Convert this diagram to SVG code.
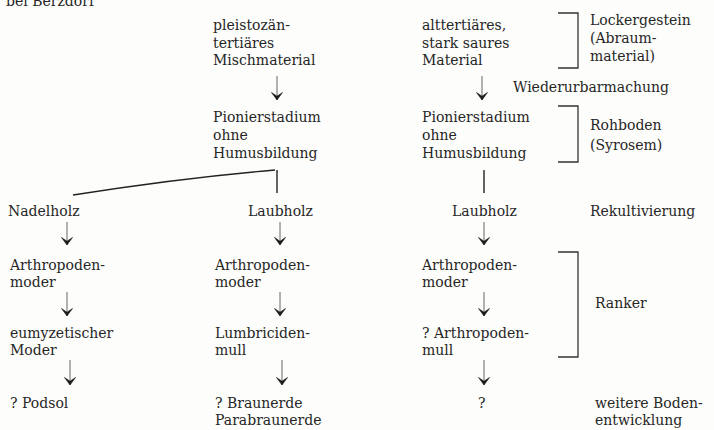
<svg xmlns="http://www.w3.org/2000/svg" width="714" height="430" viewBox="0 0 714 430">
<defs>
<marker id="head" markerWidth="12" markerHeight="14" viewBox="-9 -7 10 14" refX="0" refY="0" orient="auto" markerUnits="userSpaceOnUse">
<path d="M0,0 L-7.5,-5.5 L-3.8,0 L-7.5,5.5 Z" fill="#1a1a1a" stroke="#1a1a1a" stroke-width="0.6" stroke-linejoin="round"/>
</marker>
<style>
text{font-family:"DejaVu Serif","Liberation Serif",serif;font-size:14px;fill:#262626}
.ln{stroke:#666;stroke-width:1;fill:none}
.br{stroke:#333;stroke-width:1.3;fill:none}
.tr{stroke:#222;stroke-width:1.4;fill:none}
</style>
</defs>
<rect width="714" height="430" fill="#fdfdfb"/>
<text x="6" y="6">bei Berzdorf</text>

<g id="n-pleisto"><text x="213" y="30">pleistozän-</text><text x="213" y="48">tertiäres</text><text x="213" y="65">Mischmaterial</text></g>
<g id="n-pionier-l"><text x="213" y="122">Pionierstadium</text><text x="213" y="140">ohne</text><text x="213" y="158">Humusbildung</text></g>
<g id="n-nadel"><text x="8" y="216">Nadelholz</text></g>
<g id="n-laub-l"><text x="248" y="216">Laubholz</text></g>
<g id="n-arth-1"><text x="10" y="270">Arthropoden-</text><text x="10" y="287">moder</text></g>
<g id="n-arth-2"><text x="215" y="270">Arthropoden-</text><text x="215" y="287">moder</text></g>
<g id="n-eumyz"><text x="10" y="338">eumyzetischer</text><text x="10" y="355">Moder</text></g>
<g id="n-lumbr"><text x="215" y="338">Lumbriciden-</text><text x="215" y="355">mull</text></g>
<g id="n-podsol"><text x="10" y="408">? Podsol</text></g>
<g id="n-braun"><text x="215" y="408">? Braunerde</text><text x="215" y="425">Parabraunerde</text></g>

<g id="n-altt"><text x="422" y="30">alttertiäres,</text><text x="422" y="48">stark saures</text><text x="422" y="65">Material</text></g>
<g id="n-pionier-r"><text x="422" y="122">Pionierstadium</text><text x="422" y="140">ohne</text><text x="422" y="158">Humusbildung</text></g>
<g id="n-laub-r"><text x="452" y="216">Laubholz</text></g>
<g id="n-arth-3"><text x="422" y="270">Arthropoden-</text><text x="422" y="287">moder</text></g>
<g id="n-arth-4"><text x="422" y="338">? Arthropoden-</text><text x="422" y="355">mull</text></g>
<g id="n-q"><text x="478" y="408">?</text></g>

<g id="labels">
<text x="590" y="25">Lockergestein</text><text x="590" y="43">(Abraum-</text><text x="590" y="61">material)</text>
<text x="513" y="92">Wiederurbarmachung</text>
<text x="590" y="130">Rohboden</text><text x="590" y="150">(Syrosem)</text>
<text x="590" y="216">Rekultivierung</text>
<text x="595" y="308">Ranker</text>
<text x="595" y="408">weitere Boden-</text><text x="595" y="425">entwicklung</text>
</g>

<g id="connectors">
<line class="ln" x1="277" y1="76" x2="277" y2="100" marker-end="url(#head)"/>
<line class="tr" x1="277" y1="170" x2="277" y2="193"/>
<path class="tr" d="M275,170 Q180,178 73,195"/>
<line class="ln" x1="67" y1="222" x2="67" y2="245" marker-end="url(#head)"/>
<line class="ln" x1="280" y1="222" x2="280" y2="245" marker-end="url(#head)"/>
<line class="ln" x1="67" y1="292" x2="67" y2="316" marker-end="url(#head)"/>
<line class="ln" x1="280" y1="292" x2="280" y2="316" marker-end="url(#head)"/>
<line class="ln" x1="70" y1="360" x2="70" y2="385" marker-end="url(#head)"/>
<line class="ln" x1="282" y1="360" x2="282" y2="385" marker-end="url(#head)"/>
<line class="ln" x1="482" y1="76" x2="482" y2="100" marker-end="url(#head)"/>
<line class="tr" x1="484" y1="170" x2="484" y2="193"/>
<line class="ln" x1="484" y1="222" x2="484" y2="245" marker-end="url(#head)"/>
<line class="ln" x1="484" y1="292" x2="484" y2="316" marker-end="url(#head)"/>
<line class="ln" x1="484" y1="360" x2="484" y2="385" marker-end="url(#head)"/>
<path class="br" d="M558,13 H578 V68 H558"/>
<path class="br" d="M558,106 H578 V162 H558"/>
<path class="br" d="M558,252 H578 V357 H558"/>
</g>
</svg>
